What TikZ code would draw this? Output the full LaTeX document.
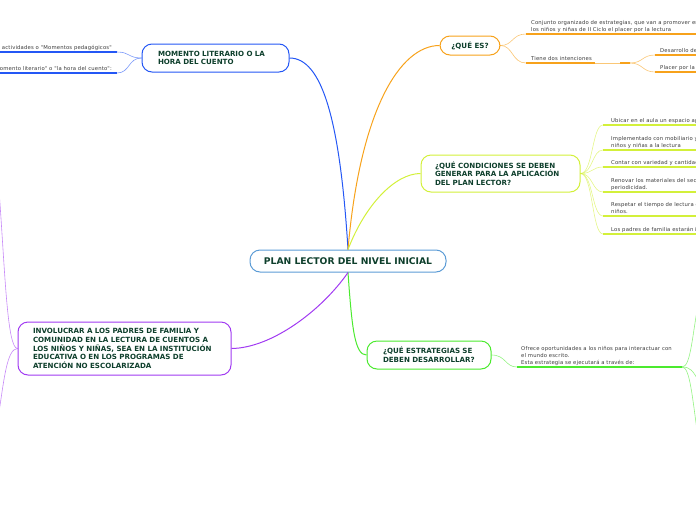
\documentclass[tikz,border=0pt]{standalone}
\usepackage{fontspec}
\setmainfont{DejaVu Sans}
\newfontfamily\leaffont[LetterSpace=3]{DejaVu Sans}
\definecolor{ink}{HTML}{0E3F2C}
\definecolor{subink}{HTML}{3C3C3C}
\definecolor{rootblue}{HTML}{5C9CD6}
\definecolor{mblue}{HTML}{2457F5}
\definecolor{morange}{HTML}{F7A21B}
\definecolor{myellow}{HTML}{D3F03A}
\definecolor{mgreen}{HTML}{4BEA2E}
\definecolor{mpurple}{HTML}{A13BF2}
\tikzset{
  topic/.style={draw, fill=white, rounded corners=10pt, line width=1pt, text=ink,
    font=\bfseries\fontsize{7.1}{8.7}\selectfont, inner ysep=0pt},
  leaf/.style={anchor=south west, text=subink, font=\leaffont\fontsize{5.3}{7}\selectfont,
    inner sep=0pt, text depth=1pt, align=left},
  branch/.style={line width=1pt},
  twig/.style={line width=0.6pt, opacity=0.6},
  leafline/.style={line width=1.2pt}
}
\begin{document}
\begin{tikzpicture}[x=1pt, y=-1pt]
    \useasboundingbox (0,0) rectangle (696,520);
    \clip (0,0) rectangle (696,520);
    % Central topic
    \node[topic, draw=rootblue, minimum width=196pt, minimum height=22pt,
      font=\bfseries\fontsize{9.2}{11}\selectfont] (plan) at (348,261) {PLAN LECTOR DEL NIVEL INICIAL};
    % Main topics
    \node[topic, draw=mblue, text width=115pt, inner xsep=16pt, minimum height=28pt, align=left]
      (momento) at (215.5,58) {MOMENTO LITERARIO O LA\\HORA DEL CUENTO};
    \node[topic, draw=morange, minimum width=60pt, minimum height=19pt] (quees) at (470,45.5) {¿QUÉ ES?};
    \node[topic, draw=myellow, text width=131pt, inner xsep=14pt, minimum height=37pt, align=left]
      (condic) at (500.5,173.5) {¿QUÉ CONDICIONES SE DEBEN\\GENERAR PARA LA APLICACIÓN\\DEL PLAN LECTOR?};
    \node[topic, draw=mgreen, text width=92pt, inner xsep=16pt, minimum height=28pt, align=left]
      (estrat) at (429,355) {¿QUÉ ESTRATEGIAS SE\\DEBEN DESARROLLAR?};
    \node[topic, draw=mpurple, text width=183pt, inner xsep=15pt, minimum height=53pt, align=left]
      (padres) at (124.5,348.5) {INVOLUCRAR A LOS PADRES DE FAMILIA Y\\COMUNIDAD EN LA LECTURA DE CUENTOS A\\LOS NIÑOS Y NIÑAS, SEA EN LA INSTITUCIÓN\\EDUCATIVA O EN LOS PROGRAMAS DE\\ATENCIÓN NO ESCOLARIZADA};
    % Branches from the centre
    \draw[branch, mblue] (plan.north) .. controls (340,120) and (322,58) .. (momento.east);
    \draw[branch, morange] (plan.north) .. controls (360,110) and (400,45.5) .. (quees.west);
    \draw[branch, myellow] (plan.north) .. controls (365,205) and (395,173.5) .. (condic.west);
    \draw[branch, mgreen] (plan.south) .. controls (352,330) and (355,355) .. (estrat.west);
    \draw[branch, mpurple] (plan.south) .. controls (322,310) and (272,348) .. (padres.east);
    % Momento literario
    \coordinate (mA) at (117,52);
    \coordinate (mB) at (117,73);
    \draw[twig, mblue] (momento.west) .. controls (128,58) and (130,52) .. (mA);
    \draw[twig, mblue] (momento.west) .. controls (128,58) and (130,73) .. (mB);
    \draw[leafline, mblue] (mA) -- (-5,52);
    \draw[leafline, mblue] (mB) -- (-5,73);
    \node[leaf, anchor=south east] (mtA) at (112,50.5) {s actividades o "Momentos pedagógicos"};
    \node[leaf, anchor=south east] (mtB) at (112,71.5) {omento literario" o "la hora del cuento":};
    % Que es
    \coordinate (qA) at (526,34);
    \coordinate (qB) at (526,63);
    \coordinate (qBe) at (595,63);
    \coordinate (qC) at (620,63);
    \coordinate (qCe) at (630,63);
    \coordinate (qD) at (655,55);
    \coordinate (qE) at (655,72);
    \draw[twig, morange] (quees.east) .. controls (513,45.5) and (512,34) .. (qA);
    \draw[twig, morange] (quees.east) .. controls (513,45.5) and (512,63) .. (qB);
    \draw[leafline, morange] (qA) -- (700,34);
    \node[leaf] (qtA) at (531,32.5) {Conjunto organizado de estrategias, que van a promover en\\los niños y niñas de II Ciclo el placer por la lectura};
    \draw[leafline, morange] (qB) -- (qBe);
    \node[leaf] (qtB) at (531,61.5) {Tiene dos intenciones};
    \draw[twig, morange] (qBe) -- (qC);
    \draw[leafline, morange] (qC) -- (qCe);
    \draw[twig, morange] (qCe) .. controls (643,63) and (642,55) .. (qD);
    \draw[twig, morange] (qCe) .. controls (643,63) and (642,72) .. (qE);
    \draw[leafline, morange] (qD) -- (700,55);
    \draw[leafline, morange] (qE) -- (700,72);
    \node[leaf] (qtD) at (660,53.5) {Desarrollo de};
    \node[leaf] (qtE) at (660,70.5) {Placer por la};
    % Condiciones
    \foreach \uy/\txt [count=\i] in {125/{Ubicar en el aula un espacio ap},
        150/{Implementado con mobiliario y\\niños y niñas a la lectura},
        167/{Contar con variedad y cantidad},
        192/{Renovar los materiales del sect\\periodicidad.},
        216/{Respetar el tiempo de lectura e\\niños.},
        234/{Los padres de familia estarán i}}
    {
      \coordinate (cnd\i) at (603,\uy);
      \draw[twig, myellow] (condic.east) .. controls (593,173.5) and (592,\uy) .. (cnd\i);
      \draw[leafline, myellow] (cnd\i) -- (700,\uy);
      \node[leaf] (cndt\i) at (611,\uy-1.5) {\txt};
    }
    % Estrategias
    \coordinate (eA) at (517,367);
    \coordinate (eB) at (682,367);
    \draw[twig, mgreen] (estrat.east) .. controls (506,355) and (505,367) .. (eA);
    \draw[leafline, mgreen] (eA) -- (eB);
    \node[leaf] (etA) at (521,365.5) {Ofrece oportunidades a los niños para interactuar con\\el mundo escrito.\\Esta estrategia se ejecutará a través de:};
    \draw[twig, mgreen] (eB) .. controls (691,367) and (692,335) .. (699,300);
    \draw[twig, mgreen] (eB) .. controls (690,367) and (693,370) .. (700,384);
    \draw[twig, mgreen] (eB) .. controls (690,367) and (692,395) .. (699,445);
    % Padres
    \draw[twig, mpurple] (padres.west) .. controls (7,348.5) and (5,270) .. (-1,190);
    \draw[twig, mpurple] (padres.west) .. controls (7,348.5) and (4,380) .. (-1,412);
\end{tikzpicture}
\end{document}
